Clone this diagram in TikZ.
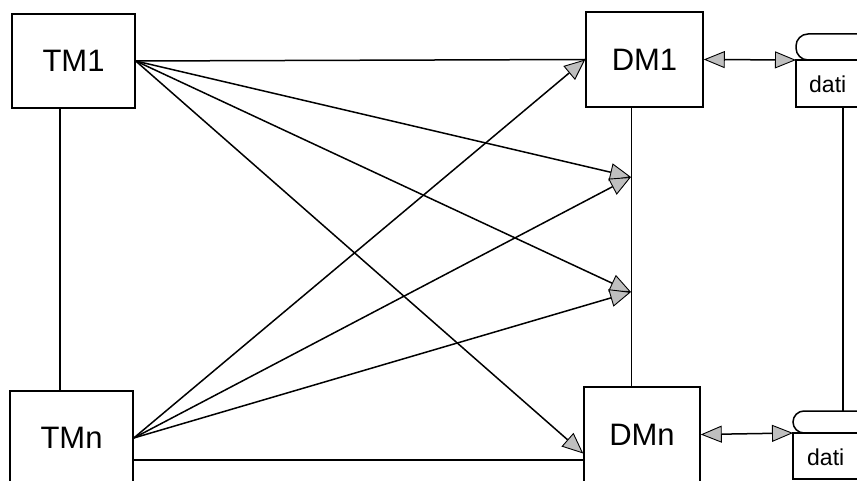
\documentclass[tikz,border=0pt]{standalone}
\usepackage{fontspec}
\setmainfont{Liberation Sans}
\usetikzlibrary{arrows.meta,calc}
\begin{document}
\begin{tikzpicture}[x=1pt,y=-1pt,
  module/.style={draw, line width=1.5pt, minimum width=123pt, minimum height=94pt,
                 inner sep=0pt, font=\fontsize{31}{36}\selectfont},
  link/.style={line width=1.5pt},
  bus/.style={line width=1.2pt},
  head/.style={-{Triangle[length=21pt,width=18pt,fill=gray!50,line width=0.9pt]}},
  both/.style={{Triangle[length=21pt,width=17pt,fill=gray!50,line width=0.9pt]}-{Triangle[length=21pt,width=17pt,fill=gray!50,line width=0.9pt]}},
  label/.style={anchor=base west, inner sep=0pt, font=\fontsize{23}{27}\selectfont}
]
\useasboundingbox (0,0) rectangle (857,481);
\clip (0,0) rectangle (857,481);

% modules
\node[module] (TM1) at (73.5,61) {TM1};
\node[module] (TMn) at (71.5,438) {TMn};
\node[module, minimum width=117pt, minimum height=95pt] (DM1) at (644.5,59.5) {DM1};
\node[module, minimum width=116pt, minimum height=95pt] (DMn) at (642,434.5) {DMn};

% data stores (tab on top, body below)
\draw[link, rounded corners=12pt] (900,34) -- (796,34) -- (796,60) -- (900,60);
\draw[link] (796,60) rectangle (900,107);
\coordinate (S1) at (796,60);
\node[label] (d1) at (809,93) {dati};

\draw[link, rounded corners=11pt] (900,411) -- (793,411) -- (793,433) -- (900,433);
\draw[link] (793,433) rectangle (900,479);
\coordinate (S2) at (793,433);
\node[label] (d2) at (807,465) {dati};

% vertical bus lines
\coordinate (lx) at (60,0);
\coordinate (mx) at (631.5,0);
\draw[bus] (lx |- TM1.south) -- (lx |- TMn.north);
\draw[bus] (mx |- DM1.south) -- (mx |- DMn.north);
\draw[bus] (843,107) -- (843,411);

\coordinate (m1) at (631,177);
\coordinate (m2) at (631,292);

% direct horizontal links
\draw[link] (TM1.east) -- (DM1.west);
\coordinate (h) at ($(TMn.east)+(0,22)$);
\draw[link] (h) -- (h -| DMn.west);

% fan-out connections
\draw[link,head] (TM1.east) -- (m1);
\draw[link,head] (TM1.east) -- (m2);
\draw[link,head] (TM1.east) -- ($(DMn.west)+(0,19)$);
\draw[link,head] (TMn.east) -- (m1);
\draw[link,head] (TMn.east) -- (m2);
\draw[link,head] (TMn.east) -- (DM1.west);

% module to store
\draw[link,both] (DM1.east) -- (S1);
\draw[link,both] (DMn.east) -- (S2);
\end{tikzpicture}
\end{document}
